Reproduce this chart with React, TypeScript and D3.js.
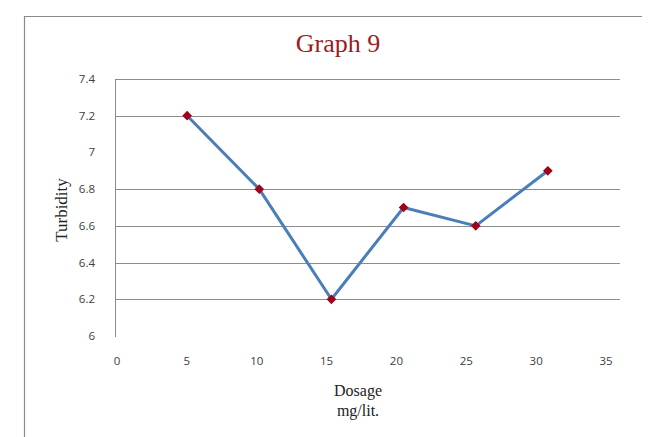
import React from "react";
import * as d3 from "d3";

// Dosage (mg/lit.) against turbidity
const dosage = [5, 10, 15, 20, 25, 30];
const turbidity = [7.2, 6.8, 6.2, 6.7, 6.6, 6.9];

const xTicks = [0, 5, 10, 15, 20, 25, 30, 35];
const yTicks = [6.0, 6.2, 6.4, 6.6, 6.8, 7.0, 7.2, 7.4];
const yTickLabels = ["6", "6.2", "6.4", "6.6", "6.8", "7", "7.2", "7.4"];
const gridValues = [6.2, 6.4, 6.6, 6.8, 7.2, 7.4];

const W = 663;
const H = 437;

export default function App() {
  const x = d3.scaleLinear().domain([0, 35]).range([115, 620]);
  const xLabel = d3.scaleLinear().domain([0, 35]).range([117, 606]);
  const y = d3.scaleLinear().domain([6.0, 7.4]).range([336, 79]);

  const pts = dosage.map((d, i) => [d, turbidity[i]] as [number, number]);
  const line = d3
    .line<[number, number]>()
    .x((d) => x(d[0]))
    .y((d) => y(d[1]));
  const diamond = d3.symbol().type(d3.symbolDiamond2).size(60)();

  const tickFont = "'Open Sans', 'DejaVu Sans', sans-serif";
  const serif = "'Liberation Serif', 'DejaVu Serif', serif";

  return (
    <svg
      width={W}
      height={H}
      style={{ position: "absolute", left: 0, top: 0, background: "#fff" }}
    >
      {/* frame */}
      <line x1={24} x2={642} y1={16.5} y2={16.5} stroke="#8a8a8a" strokeWidth={1.2} />
      <line x1={24.5} x2={24.5} y1={16} y2={H} stroke="#8a8a8a" strokeWidth={1.2} />

      <text
        x={338}
        y={52}
        textAnchor="middle"
        fontFamily={serif}
        fontSize={26}
        fill="#9a1c22"
      >
        Graph 9
      </text>

      {/* gridlines */}
      {gridValues.map((v) => (
        <line
          key={v}
          x1={115}
          x2={620}
          y1={Math.round(y(v)) + 0.5}
          y2={Math.round(y(v)) + 0.5}
          stroke="#8c8c8c"
          strokeWidth={1}
        />
      ))}
      {/* value axis */}
      <line x1={115.5} x2={115.5} y1={y(7.4)} y2={y(6.0) + 1} stroke="#8c8c8c" strokeWidth={1} />

      {yTicks.map((v, i) => (
        <text
          key={v}
          x={95}
          y={y(v) + 4}
          textAnchor="end"
          fontFamily={tickFont}
          fontSize={11.5}
          fill="#404040"
        >
          {yTickLabels[i]}
        </text>
      ))}
      {xTicks.map((v) => (
        <text
          key={v}
          x={xLabel(v)}
          y={365}
          textAnchor="middle"
          fontFamily={tickFont}
          fontSize={11.5}
          fill="#404040"
        >
          {v}
        </text>
      ))}

      <text
        transform={`translate(67,210) rotate(-90)`}
        textAnchor="middle"
        fontFamily={serif}
        fontSize={17}
        fill="#222"
      >
        Turbidity
      </text>
      <text x={358} y={396} textAnchor="middle" fontFamily={serif} fontSize={16} fill="#222">
        Dosage
      </text>
      <text x={358} y={416} textAnchor="middle" fontFamily={serif} fontSize={16} fill="#222">
        mg/lit.
      </text>

      <path
        d={line(pts) ?? ""}
        fill="none"
        stroke="#4a7ebb"
        strokeWidth={3}
        strokeLinejoin="round"
      />
      {pts.map((p) => (
        <path
          key={p[0]}
          d={diamond ?? ""}
          transform={`translate(${x(p[0])},${y(p[1])})`}
          fill="#a3001c"
        />
      ))}
    </svg>
  );
}
